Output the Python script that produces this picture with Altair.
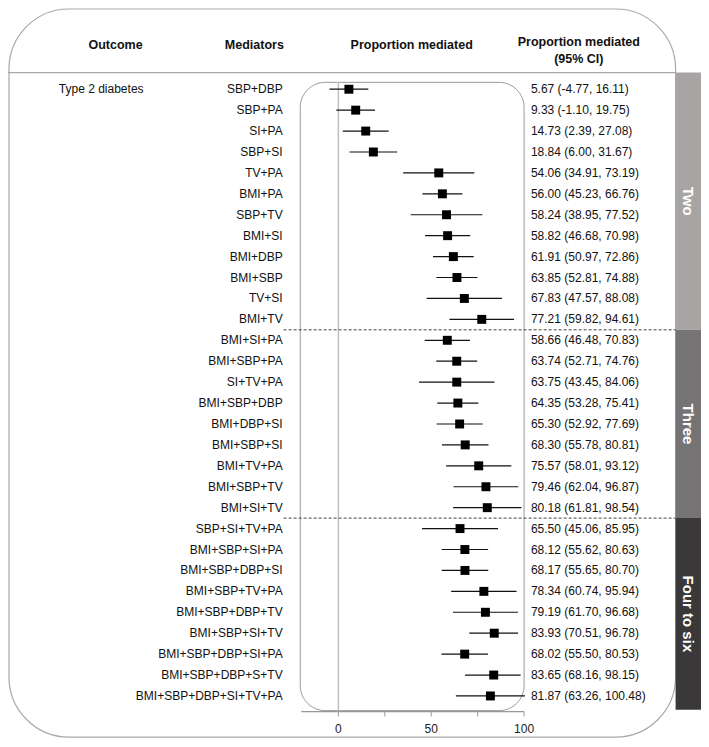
import altair as alt
import pandas as pd

# ---------------- data ----------------
mediators = ["SBP+DBP", "SBP+PA", "SI+PA", "SBP+SI", "TV+PA", "BMI+PA", "SBP+TV", "BMI+SI",
             "BMI+DBP", "BMI+SBP", "TV+SI", "BMI+TV",
             "BMI+SI+PA", "BMI+SBP+PA", "SI+TV+PA", "BMI+SBP+DBP", "BMI+DBP+SI", "BMI+SBP+SI",
             "BMI+TV+PA", "BMI+SBP+TV", "BMI+SI+TV",
             "SBP+SI+TV+PA", "BMI+SBP+SI+PA", "BMI+SBP+DBP+SI", "BMI+SBP+TV+PA", "BMI+SBP+DBP+TV",
             "BMI+SBP+SI+TV", "BMI+SBP+DBP+SI+PA", "BMI+SBP+DBP+S+TV", "BMI+SBP+DBP+SI+TV+PA"]
estimate = [5.67, 9.33, 14.73, 18.84, 54.06, 56.00, 58.24, 58.82, 61.91, 63.85, 67.83, 77.21,
            58.66, 63.74, 63.75, 64.35, 65.30, 68.30, 75.57, 79.46, 80.18,
            65.50, 68.12, 68.17, 78.34, 79.19, 83.93, 68.02, 83.65, 81.87]
lower = [-4.77, -1.10, 2.39, 6.00, 34.91, 45.23, 38.95, 46.68, 50.97, 52.81, 47.57, 59.82,
         46.48, 52.71, 43.45, 53.28, 52.92, 55.78, 58.01, 62.04, 61.81,
         45.06, 55.62, 55.65, 60.74, 61.70, 70.51, 55.50, 68.16, 63.26]
upper = [16.11, 19.75, 27.08, 31.67, 73.19, 66.76, 77.52, 70.98, 72.86, 74.88, 88.08, 94.61,
         70.83, 74.76, 84.06, 75.41, 77.69, 80.81, 93.12, 96.87, 98.54,
         85.95, 80.63, 80.70, 95.94, 96.68, 96.78, 80.53, 98.15, 100.48]
outcome = "Type 2 diabetes"
group_names = ["Two", "Three", "Four to six"]
group_sizes = [12, 9, 9]
axis_ticks = [0, 25, 50, 75, 100]
axis_labels = [0, 50, 100]
axis_range = [-20, 100]

# ---------------- layout ----------------
W, H = 693, 731
sx, sy = W / 709, H / 747
def X(p): return p * sx
def Y(p): return p * sy

ROW0, ROWSTEP = 83, 21.38
ZERO_PX, UNIT_PX = 338, 1.9
x_dom = [-ZERO_PX / UNIT_PX, (709 - ZERO_PX) / UNIT_PX]
y_dom = [-ROW0 / ROWSTEP, (747 - ROW0) / ROWSTEP]
xs = alt.Scale(domain=x_dom, nice=False, zero=False)
ys = alt.Scale(domain=y_dom, nice=False, zero=False, reverse=True)
FONT = "Liberation Sans"
GREY = "#a9a9a9"

df = pd.DataFrame({
    "row": list(range(len(mediators))),
    "med": mediators,
    "est": estimate,
    "lo": lower,
    "hi": upper,
})
df["ci"] = [f"{e:.2f} ({l:.2f}, {h:.2f})" for e, l, h in zip(estimate, lower, upper)]

# group bands
starts, s = [], 0
for n in group_sizes:
    starts.append(s)
    s += n
header_row = (66 - ROW0) / ROWSTEP
bottom_row = (717 - ROW0) / ROWSTEP
bands = pd.DataFrame({
    "g": group_names,
    "y1": [header_row if i == 0 else starts[i] - 0.5 for i in range(3)],
    "y2": [starts[i] + group_sizes[i] - 0.5 if i < 2 else bottom_row for i in range(3)],
    "col": ["#a8a4a4", "#757373", "#3a3838"],
})
bands["mid"] = (bands["y1"] + bands["y2"]) / 2
seps = pd.DataFrame({"r": [starts[1] - 0.5, starts[2] - 0.5]})

one = alt.Data(values=[{"a": 1}])

outer = alt.Chart(one).mark_rect(fill="white", fillOpacity=0, stroke=GREY, strokeWidth=1.2,
                                 cornerRadius=60).encode(
    x=alt.value(X(1)), x2=alt.value(X(683)), y=alt.value(Y(1)), y2=alt.value(Y(745)))
header_line = alt.Chart(one).mark_rule(color=GREY, strokeWidth=1.2).encode(
    x=alt.value(0), x2=alt.value(X(683)), y=alt.value(Y(66)))
inner = alt.Chart(one).mark_rect(fill="white", fillOpacity=0, stroke="#9a9a9a", strokeWidth=1,
                                 cornerRadius=25).encode(
    x=alt.value(X(299)), x2=alt.value(X(528)), y=alt.value(Y(76)), y2=alt.value(Y(718)))
zero_line = alt.Chart(pd.DataFrame({"v": [0]})).mark_rule(color="#c0c0c0", strokeWidth=1.5).encode(
    x=alt.X("v:Q", scale=xs, axis=None), y=alt.value(Y(76)), y2=alt.value(Y(718)))
sep = alt.Chart(seps).mark_rule(color="#444", strokeWidth=1, strokeDash=[3, 2]).encode(
    y=alt.Y("r:Q", scale=ys, axis=None), x=alt.value(X(282)), x2=alt.value(X(683)))

band = alt.Chart(bands).mark_rect().encode(
    y=alt.Y("y1:Q", scale=ys, axis=None), y2="y2:Q",
    x=alt.value(X(683)), x2=alt.value(W),
    color=alt.Color("col:N", scale=None))
band_txt = alt.Chart(bands).mark_text(angle=90, color="white", font=FONT, fontSize=15,
                                      fontWeight="bold", align="center", baseline="middle").encode(
    y=alt.Y("mid:Q", scale=ys, axis=None), x=alt.value(X(696)), text="g:N")

def header(text, xp, yp):
    return alt.Chart(one).mark_text(font=FONT, fontSize=12.5, fontWeight="bold", color="#111",
                                    align="center", baseline="middle", text=text).encode(
        x=alt.value(X(xp)), y=alt.value(Y(yp)))

headers = [header("Outcome", 110, 38), header("Mediators", 252, 38),
           header("Proportion mediated", 413, 38), header("Proportion mediated", 584, 35),
           header("(95% CI)", 584, 52)]

base = alt.Chart(df)
out_txt = alt.Chart(pd.DataFrame({"row": [0], "t": [outcome]})).mark_text(
    font=FONT, fontSize=12, align="left", baseline="middle", color="#111").encode(
    y=alt.Y("row:Q", scale=ys, axis=None), x=alt.value(X(52)), text="t:N")
med_txt = base.mark_text(font=FONT, fontSize=12, align="right", baseline="middle",
                         color="#111").encode(
    y=alt.Y("row:Q", scale=ys, axis=None), x=alt.value(X(281)), text="med:N")
ci_lines = base.mark_rule(color="#111", strokeWidth=1.2).encode(
    x=alt.X("lo:Q", scale=xs, axis=None), x2="hi:Q", y=alt.Y("row:Q", scale=ys, axis=None))
squares = base.mark_square(color="black", opacity=1, size=80).encode(
    x=alt.X("est:Q", scale=xs, axis=None), y=alt.Y("row:Q", scale=ys, axis=None))
ci_txt = base.mark_text(font=FONT, fontSize=12, align="left", baseline="middle",
                        color="#111").encode(
    y=alt.Y("row:Q", scale=ys, axis=None), x=alt.value(X(535)), text="ci:N")

axis_line = alt.Chart(pd.DataFrame({"a": [axis_range[0]], "b": [axis_range[1]]})).mark_rule(
    color="#999", strokeWidth=1.2).encode(
    x=alt.X("a:Q", scale=xs, axis=None), x2="b:Q", y=alt.value(Y(719)))
ticks = alt.Chart(pd.DataFrame({"v": axis_ticks})).mark_rule(color="#999", strokeWidth=1).encode(
    x=alt.X("v:Q", scale=xs, axis=None), y=alt.value(Y(719)), y2=alt.value(Y(724)))
tick_lab = alt.Chart(pd.DataFrame({"v": axis_labels})).mark_text(
    font=FONT, fontSize=12, align="center", baseline="middle", color="#222").encode(
    x=alt.X("v:Q", scale=xs, axis=None), y=alt.value(Y(737)), text=alt.Text("v:Q"))

chart = alt.layer(
    outer, header_line, inner, zero_line, sep, band, band_txt, *headers,
    out_txt, med_txt, ci_lines, squares, ci_txt, axis_line, ticks, tick_lab
).properties(width=W, height=H, autosize=alt.AutoSizeParams(type="none"), padding=0
).configure_view(stroke=None)

chart.save("out.html", embed_options={"renderer": "svg", "actions": False})
